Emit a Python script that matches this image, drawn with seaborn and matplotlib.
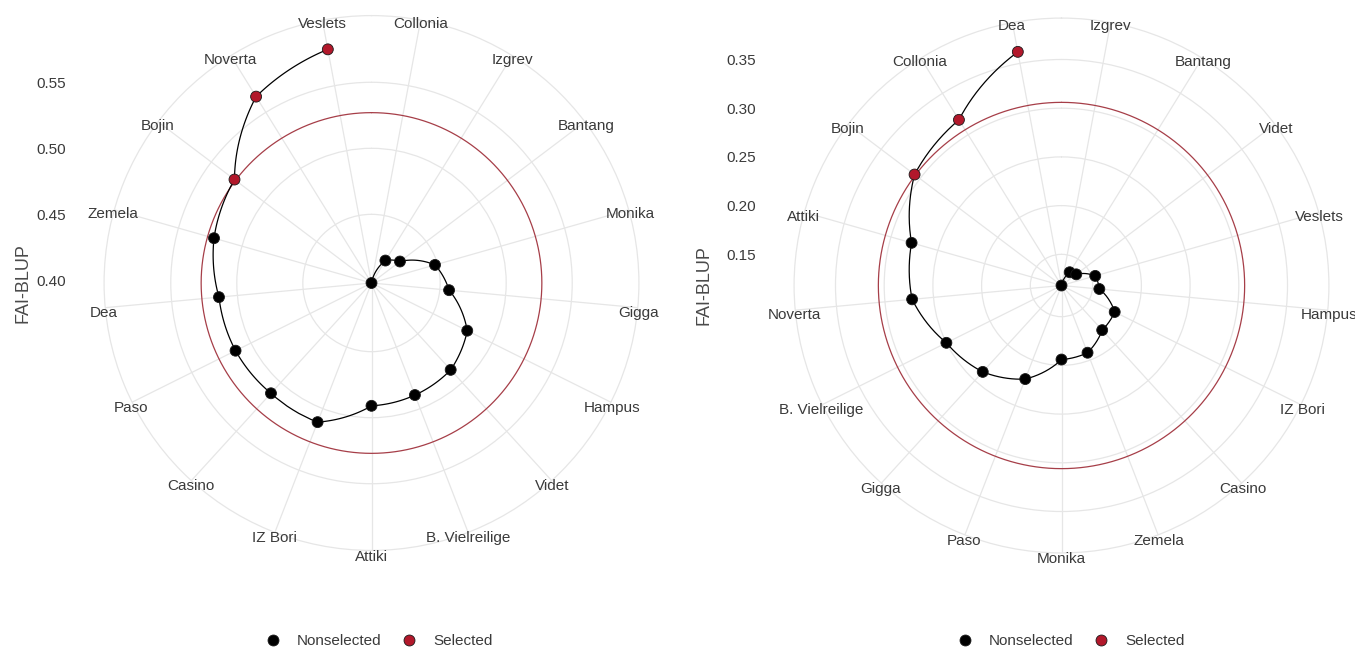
import numpy as np
import pandas as pd
import matplotlib
matplotlib.use("Agg")
import matplotlib.pyplot as plt
import matplotlib.transforms as mtransforms
import seaborn as sns

# ---------------- data ----------------
left_genotypes = ["Collonia", "Izgrev", "Bantang", "Monika", "Gigga", "Hampus", "Videt",
                  "B. Vielreilige", "Attiki", "IZ Bori", "Casino", "Paso", "Dea", "Zemela",
                  "Bojin", "Noverta", "Veslets"]
left_values = [0.398, 0.418, 0.425, 0.448, 0.457, 0.479, 0.487, 0.489, 0.491, 0.511,
               0.511, 0.513, 0.514, 0.522, 0.528, 0.564, 0.578]
left_selected = ["Bojin", "Noverta", "Veslets"]
left_threshold = 0.527
left_breaks = [0.40, 0.45, 0.50, 0.55]

right_genotypes = ["Izgrev", "Bantang", "Videt", "Veslets", "Hampus", "IZ Bori", "Casino",
                   "Zemela", "Monika", "Paso", "Gigga", "B. Vielreilige", "Noverta", "Attiki",
                   "Bojin", "Collonia", "Dea"]
right_values = [0.118, 0.134, 0.137, 0.154, 0.157, 0.179, 0.180, 0.192, 0.194, 0.221,
                0.238, 0.250, 0.272, 0.278, 0.307, 0.318, 0.362]
right_selected = ["Bojin", "Collonia", "Dea"]
right_threshold = 0.306
right_breaks = [0.15, 0.20, 0.25, 0.30, 0.35]

group_labels = ["Nonselected", "Selected"]
group_colors = ["#000000", "#B2182B"]
axis_title = "FAI-BLUP"

# ---------------- style ----------------
sns.set_theme(style="white")
plt.rcParams['font.family'] = ['Liberation Sans', 'DejaVu Sans']

W, H = 1355, 654
fig = plt.figure(figsize=(W / 100, H / 100), dpi=100)

GRID = '#E6E6E6'
TEXT = '#3A3A3A'
RDATA = 237.7          # px radius of the largest value
ROUT = RDATA * 1.125   # px radius of outer ring
LABEL_R = 1.13         # label radius relative to data radius


def panel(cx, cy, genotypes, values, selected, threshold, breaks, title_right_px, legend_cx):
    n = len(genotypes)
    vmin, vmax = min(values), max(values)
    router = vmin + (vmax - vmin) * 1.125
    rect = [(cx - ROUT) / W, (H - cy - ROUT) / H, 2 * ROUT / W, 2 * ROUT / H]

    df = pd.DataFrame({"genotype": genotypes, "value": values})
    df["theta"] = 2 * np.pi * (np.arange(n) + 0.5) / n
    df["group"] = np.where(df["genotype"].isin(selected), group_labels[1], group_labels[0])

    ax = fig.add_axes(rect, projection='polar')
    ax.set_theta_zero_location('N')
    ax.set_theta_direction(-1)

    # threshold ring
    tt = np.linspace(0, 2 * np.pi, 721)
    ax.plot(tt, np.full_like(tt, threshold), color='#A63E48', lw=0.9, zorder=1.5)

    sns.lineplot(data=df, x="theta", y="value", sort=False, estimator=None,
                 color='black', lw=0.9, ax=ax, zorder=2)
    for ln in ax.lines[1:]:
        ln.get_path()._interpolation_steps = 40
    sns.scatterplot(data=df, x="theta", y="value", hue="group", hue_order=group_labels,
                    palette=dict(zip(group_labels, group_colors)), s=62,
                    edgecolor='#1a1a1a', linewidth=0.6, ax=ax, zorder=3, legend=True)
    handles, labels = ax.get_legend_handles_labels()
    if ax.get_legend() is not None:
        ax.get_legend().remove()

    ax.set_ylim(vmin, router)
    ax.set_xticks(df["theta"].values)
    ax.set_xticklabels([])
    lab_r = vmin + (vmax - vmin) * LABEL_R
    lab_tr = mtransforms.offset_copy(ax.transData, fig=fig, x=0, y=-5, units='dots')
    for th, g in zip(df["theta"], genotypes):
        ax.text(th, lab_r, g, ha='center', va='center', fontsize=11, color=TEXT,
                clip_on=False, transform=lab_tr)
    ax.set_yticks(breaks)
    ax.set_yticklabels([])
    ax.grid(True, color=GRID, lw=0.9)
    ax.spines['polar'].set_color(GRID)
    ax.spines['polar'].set_linewidth(0.9)
    ax.set_xlabel('')
    ax.set_ylabel('')

    # radial axis labels on the left
    ax2 = fig.add_axes(rect)
    ax2.set_ylim(2 * vmin - router, router)
    ax2.set_yticks(breaks)
    ax2.set_yticklabels([f"{b:.2f}" for b in breaks])
    ax2.tick_params(axis='y', length=0, pad=(RDATA * 1.25 - ROUT + 8.5) * 0.72,
                    labelsize=11, labelcolor=TEXT)
    ax2.set_xticks([])
    for s in ax2.spines.values():
        s.set_visible(False)
    ax2.patch.set_visible(False)
    ax2.set_ylabel(axis_title, fontsize=13, color='#4A4A4A')
    ax2.yaxis.set_label_coords((title_right_px - (cx - ROUT)) / (2 * ROUT), 0.5)

    fig.legend(handles, labels, loc='center', bbox_to_anchor=(legend_cx / W, (H - 641) / H),
               ncol=2, frameon=False, handlelength=1.0, handletextpad=1.1,
               columnspacing=1.3, fontsize=11, labelcolor=TEXT)


panel(371.5, 283.0, left_genotypes, left_values, left_selected, left_threshold,
      left_breaks, 31, 379)
panel(1061.5, 285.5, right_genotypes, right_values, right_selected, right_threshold,
      right_breaks, 712, 1071)

fig.savefig("out.png", dpi=100)
